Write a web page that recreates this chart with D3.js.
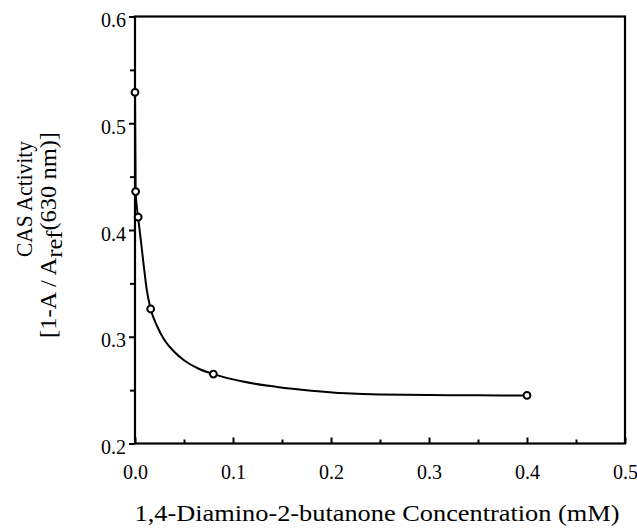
<!DOCTYPE html>
<html>
<meta charset="utf-8">
<head>
  <title>CAS activity vs 1,4-diamino-2-butanone</title>
</head>

<style>
body { margin: 0; background: white; }
text {
  font-family: "Liberation Serif", "Times New Roman", serif;
  fill: black;
}
.tick text { font-size: 20px; }
.tick line { stroke: black; stroke-width: 2; }
</style>

<body>
  <svg width="637" height="529"></svg>

  <script src="https://cdnjs.cloudflare.com/ajax/libs/d3/7.8.5/d3.min.js"></script>
  <script>
// measured points
var concentration = [0, 0.00064, 0.0032, 0.016, 0.08, 0.4];
var activity = [0.529, 0.436, 0.412, 0.326, 0.265, 0.245];

// fitted curve
var fitConc = [0, 0.00064, 0.0032, 0.006, 0.009, 0.012, 0.016, 0.022, 0.03, 0.04,
  0.05, 0.065, 0.08, 0.11, 0.145, 0.18, 0.215, 0.25, 0.3, 0.35, 0.4];
var fitActivity = [0.529, 0.436, 0.412, 0.390, 0.366, 0.344, 0.326, 0.311, 0.297, 0.286,
  0.278, 0.270, 0.265, 0.258, 0.253, 0.2495, 0.247, 0.2458, 0.2454, 0.2451, 0.245];

var xTicks = [0, 0.1, 0.2, 0.3, 0.4, 0.5];
var xMinor = [0.05, 0.15, 0.25, 0.35, 0.45];
var yTicks = [0.2, 0.3, 0.4, 0.5, 0.6];
var yMinor = [0.25, 0.35, 0.45, 0.55];

var svg = d3.select('svg');

var x = d3.scaleLinear().domain([0, 0.5]).range([135, 625]);
var y = d3.scaleLinear().domain([0.2, 0.6]).range([443.5, 16.5]);

// minor ticks
svg.append('g')
  .attr('transform', 'translate(0,' + y(0.2) + ')')
  .call(d3.axisBottom(x).tickValues(xMinor).tickSize(-4).tickFormat(''))
  .call(function(g) { g.select('.domain').remove(); });

svg.append('g')
  .attr('transform', 'translate(' + x(0) + ',0)')
  .call(d3.axisLeft(y).tickValues(yMinor).tickSize(5).tickFormat(''))
  .call(function(g) { g.select('.domain').remove(); });

// major ticks
svg.append('g')
  .attr('transform', 'translate(0,' + y(0.2) + ')')
  .call(d3.axisBottom(x).tickValues(xTicks).tickSize(-6).tickPadding(21)
    .tickFormat(d3.format('.1f')))
  .call(function(g) { g.select('.domain').remove(); });

svg.append('g')
  .attr('transform', 'translate(' + x(0) + ',0)')
  .call(d3.axisLeft(y).tickValues(yTicks).tickSize(6).tickPadding(3)
    .tickFormat(d3.format('.1f')))
  .call(function(g) {
    g.select('.domain').remove();
    g.selectAll('text').attr('dy', '0.5em');
  });

// frame
svg.append('rect')
  .attr('x', x(0))
  .attr('y', y(0.6))
  .attr('width', x(0.5) - x(0))
  .attr('height', y(0.2) - y(0.6))
  .attr('fill', 'none')
  .attr('stroke', 'black')
  .attr('stroke-width', 2.2);

// curve
var line = d3.line()
  .x(function(d, i) { return x(fitConc[i]); })
  .y(function(d) { return y(d); })
  .curve(d3.curveMonotoneX);

svg.append('path')
  .datum(fitActivity)
  .attr('d', line)
  .attr('fill', 'none')
  .attr('stroke', 'black')
  .attr('stroke-width', 2);

// points
svg.selectAll('circle.pt')
  .data(activity)
  .enter()
  .append('circle')
  .attr('class', 'pt')
  .attr('cx', function(d, i) { return x(concentration[i]); })
  .attr('cy', function(d) { return y(d); })
  .attr('r', 3.4)
  .attr('fill', 'white')
  .attr('stroke', 'black')
  .attr('stroke-width', 2);

// axis titles
svg.append('text')
  .attr('x', 377)
  .attr('y', 521)
  .attr('text-anchor', 'middle')
  .style('font-size', '24px')
  .attr('textLength', 485)
  .attr('lengthAdjust', 'spacingAndGlyphs')
  .text('1,4-Diamino-2-butanone Concentration (mM)');

svg.append('text')
  .attr('transform', 'translate(32,199) rotate(-90)')
  .attr('text-anchor', 'middle')
  .style('font-size', '23px')
  .attr('textLength', 116)
  .attr('lengthAdjust', 'spacingAndGlyphs')
  .text('CAS Activity');

var t2 = svg.append('text')
  .attr('transform', 'translate(56,235) rotate(-90)')
  .attr('text-anchor', 'middle')
  .style('font-size', '23px')
  .attr('textLength', 206)
  .attr('lengthAdjust', 'spacingAndGlyphs');
t2.append('tspan').text('[1-A / A');
t2.append('tspan').attr('dy', 6).text('ref');
t2.append('tspan').attr('dy', -6).text('(630 nm)]');
  </script>
</body>
</html>
